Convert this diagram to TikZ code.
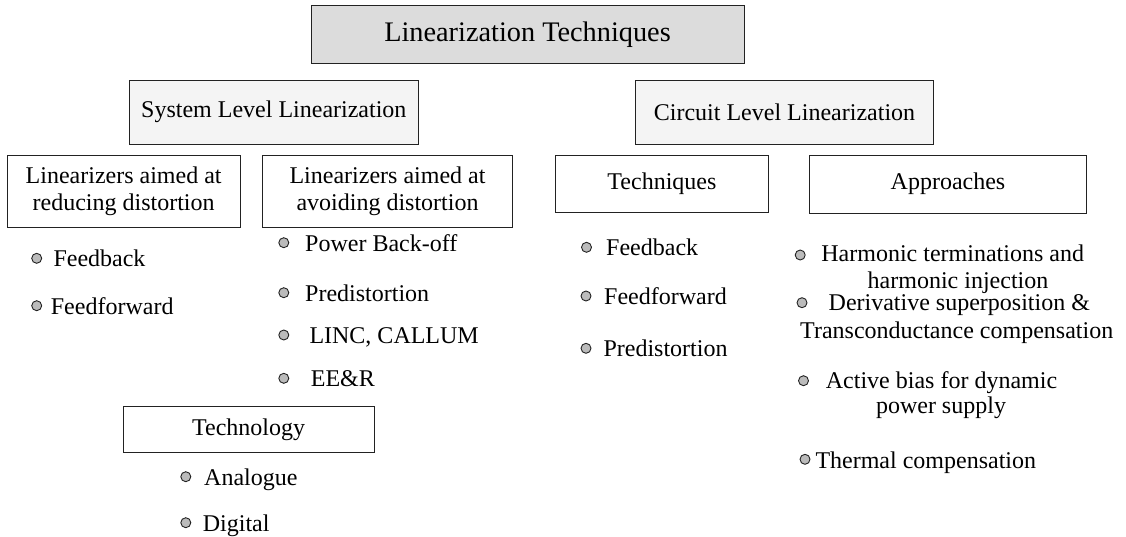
\documentclass[tikz,border=0pt]{standalone}
\usepackage{fontspec}
\setmainfont{Liberation Serif}
\definecolor{topfill}{HTML}{DCDCDC}
\definecolor{midfill}{HTML}{F4F4F4}
\definecolor{dotfill}{HTML}{BBBBBB}
\definecolor{edge}{HTML}{222222}
\begin{document}
\begin{tikzpicture}[x=1pt,y=-1pt,
  box/.style={draw=edge, line width=1pt, inner sep=0pt, align=center,
    font=\fontsize{24}{27.5}\selectfont},
  item/.style={anchor=base west, inner sep=0pt, font=\fontsize{24}{28}\selectfont},
  cline/.style={anchor=base, inner sep=0pt, font=\fontsize{24}{28}\selectfont},
  dot/.style={circle, draw=edge, fill=dotfill, line width=0.9pt,
    minimum size=10pt, inner sep=0pt}]
\useasboundingbox (0,0) rectangle (1126,536);

% boxes
\node[box, fill=topfill, minimum width=433pt, minimum height=57.6pt,
  font=\fontsize{28.3}{32}\selectfont] (top) at (527.5,34.5) {Linearization Techniques};
\node[box, fill=midfill, minimum width=289pt, minimum height=64.3pt] (sys) at (273.8,112.15) {System Level Linearization};
\node[box, fill=midfill, minimum width=297.6pt, minimum height=64.3pt] (circ) at (784.5,112.15) {Circuit Level Linearization};
\node[box, fill=white, minimum width=232.7pt, minimum height=72.3pt] (red) at (123.65,191.15) {Linearizers aimed at\\reducing distortion};
\node[box, fill=white, minimum width=250.4pt, minimum height=72.3pt] (avo) at (387.5,191.15) {Linearizers aimed at\\avoiding distortion};
\node[box, fill=white, minimum width=212.8pt, minimum height=57.2pt] (tech) at (661.9,184.1) {Techniques};
\node[box, fill=white, minimum width=277.4pt, minimum height=58.3pt] (appr) at (948,184.2) {Approaches};
\node[box, fill=white, minimum width=250.7pt, minimum height=46pt] (techno) at (248.65,429.7) {Technology};

% reducing distortion
\node[dot] (d1) at (36.7,258.3) {};
\node[item] (t1) at (53.3,266.5) {Feedback};
\node[dot] (d2) at (36.7,305.7) {};
\node[item] (t2) at (50.7,314) {Feedforward};

% avoiding distortion
\node[dot] (d3) at (283.8,242.7) {};
\node[item] (t3) at (305,251) {Power Back-off};
\node[dot] (d4) at (283.8,292.7) {};
\node[item] (t4) at (305,301) {Predistortion};
\node[dot] (d5) at (283.8,335) {};
\node[item] (t5) at (309.3,343.3) {LINC, CALLUM};
\node[dot] (d6) at (283.8,378.3) {};
\node[item] (t6) at (310.7,386.6) {EE\&R};

% technology
\node[dot] (d7) at (185.8,476.7) {};
\node[item] (t7) at (204,485) {Analogue};
\node[dot] (d8) at (185.8,522.7) {};
\node[item] (t8) at (202.7,531) {Digital};

% techniques
\node[dot] (d9) at (586.5,247.3) {};
\node[item] (t9) at (606,255.6) {Feedback};
\node[dot] (d10) at (586,296) {};
\node[item] (t10) at (604,304.3) {Feedforward};
\node[dot] (d11) at (586,348.3) {};
\node[item] (t11) at (603.3,356.6) {Predistortion};

% approaches
\node[dot] (d12) at (800.2,255) {};
\node[cline] (t12a) at (952.7,261.7) {Harmonic terminations and};
\node[cline] (t12b) at (958,288.3) {harmonic injection};
\node[dot] (d13) at (802,302.7) {};
\node[cline] (t13a) at (959.3,310.7) {Derivative superposition \&};
\node[cline] (t13b) at (956.7,338.3) {Transconductance compensation};
\node[dot] (d14) at (803.5,380.7) {};
\node[cline] (t14a) at (941.5,388.3) {Active bias for dynamic};
\node[cline] (t14b) at (941,413) {power supply};
\node[dot] (d15) at (805,459.3) {};
\node[item] (t15) at (815.3,468.3) {Thermal compensation};
\end{tikzpicture}
\end{document}
